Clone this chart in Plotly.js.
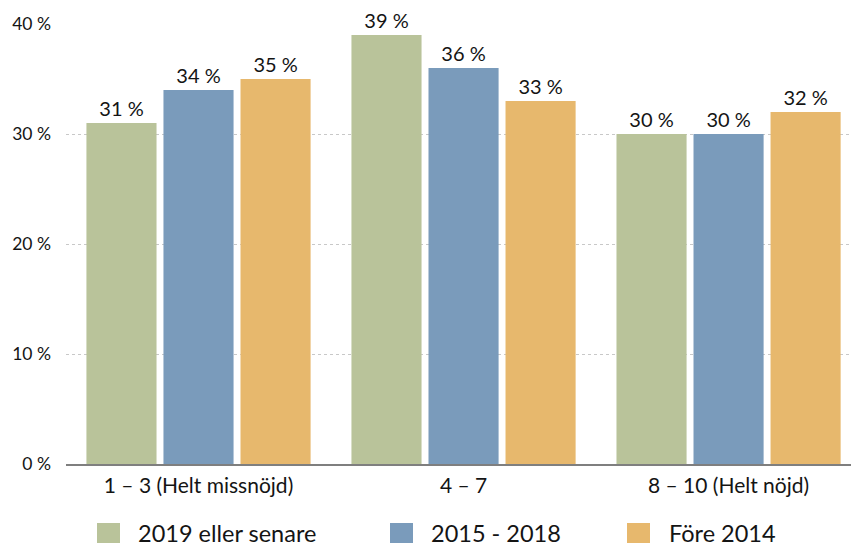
<!DOCTYPE html>
<html>
<head>
<meta charset="utf-8">
<script src="https://cdn.plot.ly/plotly-3.0.1.min.js"></script>
<style>
  html, body { margin: 0; padding: 0; background: #fff; overflow: hidden; }
  #chart { width: 851px; height: 547px; }
</style>
</head>
<body>
<div id="chart"></div>
<script>
// ---- data ----
const categories = ["1 – 3 (Helt missnöjd)", "4 – 7", "8 – 10 (Helt nöjd)"];
const seriesNames = ["2019 eller senare", "2015 - 2018", "Före 2014"];
const values2019 = [31, 39, 30];
const values2015 = [34, 36, 30];
const valuesFore = [35, 33, 32];
const yTicks = [0, 10, 20, 30, 40];

// ---- styling ----
const colors = ["#b9c39a", "#7a9bbb", "#e7b86d"];
const FONT = "Lato, 'Open Sans', sans-serif";
const TEXT = "#141414";

// plot geometry (pixels)
const W = 851, H = 547;
const L = 66, T = 24, B = 83, R = 0;
const plotW = W - L - R, plotH = H - T - B;
function px(x) { return (x - L) / plotW; }
function py(y) { return (H - B - y) / plotH; }

const seriesValues = [values2019, values2015, valuesFore];
const traces = seriesValues.map((vals, i) => ({
  type: "bar",
  name: seriesNames[i],
  x: categories,
  y: vals,
  marker: { color: colors[i] },
  text: vals.map(v => v + " %"),
  textposition: "outside",
  textfont: { family: FONT, size: 20, color: TEXT },
  cliponaxis: false,
  showlegend: false,
  hoverinfo: "skip"
}));

// custom legend (shapes + annotations)
const legendSquares = [[97, 120], [390, 413], [627, 650]];
const legendTextX = [136, 429, 667];
const shapes = [];
const annotations = [];
seriesNames.forEach((name, i) => {
  shapes.push({
    type: "rect", xref: "paper", yref: "paper",
    x0: px(legendSquares[i][0]), x1: px(legendSquares[i][1]),
    y0: py(523), y1: py(543),
    fillcolor: colors[i], line: { width: 0 }
  });
  annotations.push({
    xref: "paper", yref: "paper",
    x: px(legendTextX[i]), y: py(533),
    xanchor: "left", yanchor: "middle",
    text: name, showarrow: false,
    font: { family: FONT, size: 23.5, color: TEXT }
  });
});

const layout = {
  width: W, height: H,
  margin: { l: L, r: R, t: T, b: B, pad: 0 },
  paper_bgcolor: "#ffffff",
  plot_bgcolor: "#ffffff",
  barmode: "group",
  bargap: 0.128,
  bargroupgap: 0.09,
  showlegend: false,
  font: { family: FONT, color: TEXT },
  xaxis: {
    type: "category",
    range: [-0.5, 2.462],
    showgrid: false,
    showline: true,
    linecolor: "#7f7f7f",
    linewidth: 1.5,
    ticks: "",
    ticklabelstandoff: 2,
    tickfont: { family: FONT, size: 21, color: TEXT },
    zeroline: false
  },
  yaxis: {
    range: [0, 40],
    tickvals: yTicks,
    ticktext: yTicks.map(v => v + " %"),
    showgrid: true,
    gridcolor: "#c8c8c8",
    gridwidth: 1,
    griddash: "dot",
    zeroline: false,
    showline: false,
    ticks: "",
    ticklabelstandoff: 14,
    tickfont: { family: FONT, size: 17.5, color: TEXT }
  },
  shapes: shapes,
  annotations: annotations
};

Plotly.newPlot("chart", traces, layout, { displayModeBar: false, staticPlot: true });
</script>
</body>
</html>
